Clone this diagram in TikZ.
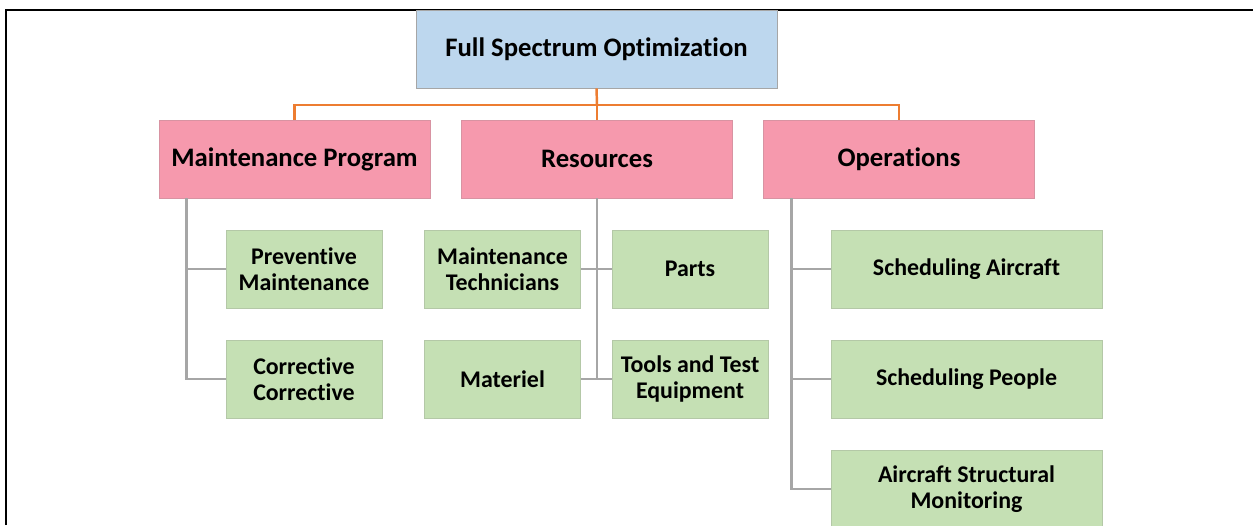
\documentclass[tikz,border=0pt]{standalone}
\usepackage{fontspec}
\setmainfont{Carlito}[Ligatures={NoCommon}]
\usepackage{xcolor}
\usepackage{tikz}
\usetikzlibrary{positioning}

\definecolor{topblue}{HTML}{BDD7EE}
\definecolor{catpink}{HTML}{F699AD}
\definecolor{subgreen}{HTML}{C5E0B4}
\definecolor{linkorange}{HTML}{ED7D31}
\definecolor{linkgray}{HTML}{A6A6A6}

\begin{document}
\begin{tikzpicture}[
      x=0.02cm, y=-0.02cm,
      topbox/.style={draw=gray!70, fill=topblue, minimum width=7.22cm, minimum height=1.56cm,
        font=\fontsize{15.2}{18}\selectfont\bfseries, align=center, inner sep=0pt},
      catbox/.style={draw=catpink!75!gray, fill=catpink, minimum width=5.42cm, minimum height=1.56cm,
        font=\fontsize{15.2}{18}\selectfont\bfseries, align=center, inner sep=0pt},
      subbox/.style={draw=subgreen!75!gray, fill=subgreen, minimum width=3.12cm, minimum height=1.56cm,
        font=\fontsize{13.6}{15}\selectfont\bfseries, align=center, inner sep=0pt},
      widebox/.style={subbox, minimum width=5.42cm},
      orgline/.style={draw=linkorange, line width=1.4pt},
      grayline/.style={draw=linkgray, line width=1.5pt}
    ]
    \useasboundingbox (0,0) rectangle (1253,525);
    \clip (0,0) rectangle (1253,525);

    % Cornice
    \draw[line width=1.2pt] (6,525) -- (6,10) -- (1253,10);

    % Vertice
    \node[topbox] (fso) at (596.5,49) {Full Spectrum Optimization};

    % Categorie
    \node[catbox] (mp)  at (294.5,159) {Maintenance Program};
    \node[catbox] (res) at (597,159)   {Resources};
    \node[catbox] (ops) at (899,159)   {Operations};

    % Sottovoci
    \node[subbox] (pm) at (304,269)   {Preventive\\Maintenance};
    \node[subbox] (cc) at (304,379)   {Corrective\\Corrective};
    \node[subbox] (mt) at (502.5,269) {Maintenance\\Technicians};
    \node[subbox] (ma) at (502.5,379) {Materiel};
    \node[subbox] (pa) at (690,269)   {Parts};
    \node[subbox] (te) at (690,379)   {Tools and Test\\Equipment};
    \node[widebox] (sa) at (966.5,269) {Scheduling Aircraft};
    \node[widebox] (sp) at (966.5,379) {Scheduling People};
    \node[widebox] (as) at (966.5,489) {Aircraft Structural\\Monitoring};

    % Collegamenti arancioni
    \coordinate (bus) at (597,105);
    \draw[orgline] (fso.south) -- (bus);
    \draw[orgline] (bus) -| (mp.north);
    \draw[orgline] (bus) -| (ops.north);
    \draw[orgline] (bus) -- (res.north);

    % Collegamenti grigi
    \draw[grayline] ([xshift=0.56cm]mp.south west) |- (pm.west);
    \draw[grayline] ([xshift=0.56cm]mp.south west) |- (cc.west);
    \draw[grayline] (res.south) |- (mt.east);
    \draw[grayline] (res.south) |- (pa.west);
    \draw[grayline] (res.south) |- (ma.east);
    \draw[grayline] (res.south) |- (te.west);
    \draw[grayline] ([xshift=0.56cm]ops.south west) |- (sa.west);
    \draw[grayline] ([xshift=0.56cm]ops.south west) |- (sp.west);
    \draw[grayline] ([xshift=0.56cm]ops.south west) |- (as.west);
  \end{tikzpicture}
\end{document}
